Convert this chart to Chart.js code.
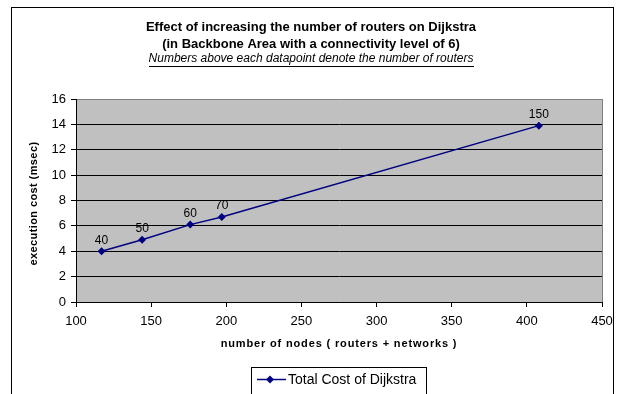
<!DOCTYPE html>
<html>
<head>
<meta charset="utf-8">
<script src="https://cdn.jsdelivr.net/npm/chart.js@4.4.1/dist/chart.umd.min.js"></script>
<style>
  html, body { margin: 0; padding: 0; background: #fff; }
  #wrap { width: 624px; height: 394px; position: relative; }
</style>
</head>
<body>
<div id="wrap"><canvas id="c" width="624" height="394"></canvas></div>
<script>
// Dijkstra cost measurements: routers per run, total nodes, execution time (ms)
const routers = [40, 50, 60, 70, 150];
const nodes = [117, 144, 176, 197, 408];
const costMs = [4.0, 4.9, 6.1, 6.7, 13.9];

const xTickValues = [100, 150, 200, 250, 300, 350, 400, 450];
const yTickValues = [0, 2, 4, 6, 8, 10, 12, 14, 16];

const titleLines = [
  'Effect of increasing the number of routers on Dijkstra',
  '(in Backbone Area with a connectivity level of 6)'
];
const subtitleText = 'Numbers above each datapoint denote the number of routers';
const xAxisTitle = 'number of nodes ( routers + networks )';
const yAxisTitle = 'execution cost (msec)';
const seriesName = 'Total Cost of Dijkstra';

const FONT = "'Liberation Sans', Arial, sans-serif";
const LINE_COLOR = '#000080';

function diamond(ctx, x, y, r) {
  ctx.beginPath();
  ctx.moveTo(x, y - r);
  ctx.lineTo(x + r, y);
  ctx.lineTo(x, y + r);
  ctx.lineTo(x - r, y);
  ctx.closePath();
  ctx.fill();
}

const decorations = {
  id: 'decorations',
  beforeDraw(chart) {
    const { ctx, chartArea: a } = chart;
    ctx.save();
    ctx.fillStyle = '#fff';
    ctx.fillRect(0, 0, chart.width, chart.height);
    // outer frame
    ctx.strokeStyle = '#000';
    ctx.lineWidth = 1;
    ctx.strokeRect(11.5, 7.5, 602, 420);
    // plot background
    ctx.fillStyle = '#c0c0c0';
    ctx.fillRect(a.left, a.top, a.right - a.left, a.bottom - a.top);
    ctx.restore();
  },
  beforeDatasetsDraw(chart) {
    const { ctx, chartArea: a } = chart;
    ctx.save();
    ctx.strokeStyle = '#808080';
    ctx.lineWidth = 1;
    ctx.beginPath();
    ctx.moveTo(Math.round(a.right) + 0.5, a.top);
    ctx.lineTo(Math.round(a.right) + 0.5, a.bottom);
    ctx.stroke();
    ctx.restore();
  },
  afterDatasetsDraw(chart) {
    const { ctx, chartArea: a } = chart;
    const meta = chart.getDatasetMeta(0);
    ctx.save();
    ctx.fillStyle = '#000';
    ctx.textAlign = 'center';
    ctx.textBaseline = 'middle';
    ctx.font = `12px ${FONT}`;
    meta.data.forEach((pt, i) => {
      ctx.fillText(String(routers[i]), pt.x, pt.y - 11);
    });

    // titles
    const cx = 311;
    ctx.font = `bold 13px ${FONT}`;
    ctx.fillText(titleLines[0], cx, 27);
    ctx.fillText(titleLines[1], cx, 44);
    ctx.font = `italic 12px ${FONT}`;
    ctx.fillText(subtitleText, cx, 59);
    const w = ctx.measureText(subtitleText).width;
    ctx.fillRect(Math.round(cx - w / 2), 66, Math.round(w), 1);

    // axis titles
    ctx.font = `bold 11px ${FONT}`;
    const pcx = (a.left + a.right) / 2;
    ctx.letterSpacing = '0.85px';
    ctx.fillText(xAxisTitle, pcx, 344);
    ctx.letterSpacing = '0.4px';
    ctx.save();
    ctx.translate(34, (a.top + a.bottom) / 2 + 3);
    ctx.rotate(-Math.PI / 2);
    ctx.fillText(yAxisTitle, 0, 0);
    ctx.restore();
    ctx.letterSpacing = '0px';

    // legend
    ctx.strokeStyle = '#000';
    ctx.lineWidth = 1;
    ctx.strokeRect(251.5, 367.5, 175, 28);
    ctx.strokeStyle = LINE_COLOR;
    ctx.lineWidth = 1.5;
    ctx.beginPath();
    ctx.moveTo(257, 379.5);
    ctx.lineTo(286, 379.5);
    ctx.stroke();
    ctx.fillStyle = LINE_COLOR;
    diamond(ctx, 270, 379.5, 4);
    ctx.fillStyle = '#000';
    ctx.textAlign = 'left';
    ctx.font = `14px ${FONT}`;
    ctx.fillText(seriesName, 288, 380);
    ctx.restore();
  }
};

new Chart(document.getElementById('c'), {
  type: 'scatter',
  data: {
    datasets: [{
      label: seriesName,
      data: nodes.map((n, i) => ({ x: n, y: costMs[i] })),
      showLine: true,
      borderColor: LINE_COLOR,
      backgroundColor: LINE_COLOR,
      borderWidth: 1.5,
      pointStyle: 'rectRot',
      pointRadius: 4,
      pointBorderWidth: 0,
      pointBackgroundColor: LINE_COLOR,
      tension: 0
    }]
  },
  options: {
    responsive: false,
    animation: false,
    devicePixelRatio: 1,
    layout: { padding: { top: 99, right: 22, left: 0, bottom: 0 } },
    plugins: {
      legend: { display: false },
      title: { display: false },
      tooltip: { enabled: false }
    },
    scales: {
      x: {
        type: 'linear',
        min: xTickValues[0],
        max: xTickValues[xTickValues.length - 1],
        afterFit(s) { s.height = 92; },
        afterBuildTicks(s) { s.ticks = xTickValues.map(v => ({ value: v })); },
        ticks: { color: '#000', font: { family: FONT, size: 13 }, padding: 7, maxRotation: 0 },
        grid: { drawOnChartArea: false, drawTicks: true, tickLength: 5, color: '#000', tickColor: '#000' },
        border: { color: '#000', width: 1 }
      },
      y: {
        min: yTickValues[0],
        max: yTickValues[yTickValues.length - 1],
        afterFit(s) { s.width = 76; },
        afterBuildTicks(s) { s.ticks = yTickValues.map(v => ({ value: v })); },
        ticks: { color: '#000', font: { family: FONT, size: 13 }, padding: 5 },
        grid: {
          color: c => (c.tick && c.tick.value === 16 ? '#808080' : '#000'),
          tickColor: '#000',
          tickLength: 5,
          drawTicks: true
        },
        border: { color: '#000', width: 1 }
      }
    }
  },
  plugins: [decorations]
});
</script>
</body>
</html>
